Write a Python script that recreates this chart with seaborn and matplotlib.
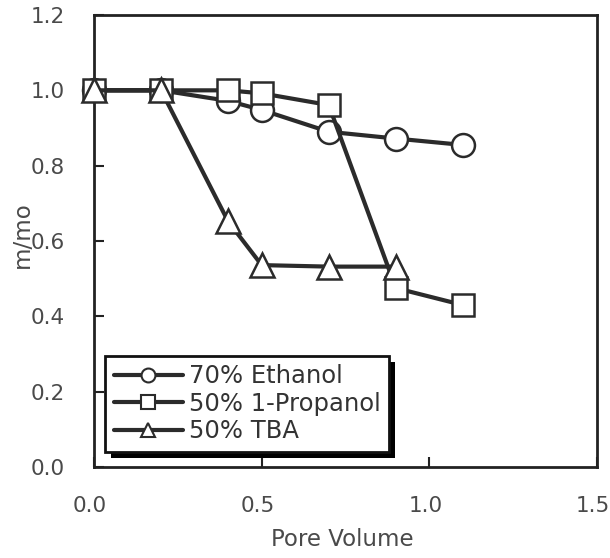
import matplotlib
matplotlib.use("Agg")
import matplotlib.pyplot as plt
import matplotlib.transforms as mtransforms
from matplotlib.patches import Rectangle
from matplotlib.lines import Line2D
import seaborn as sns
import pandas as pd

# Measured sorption ratio versus pore volume for three solvent mixtures
pore_volume = [0.0, 0.2, 0.4, 0.5, 0.7, 0.9, 1.1]
ethanol_70 = [1.0, 1.0, 0.972, 0.948, 0.890, 0.872, 0.855]
propanol_50 = [1.0, 1.0, 1.0, 0.992, 0.961, 0.475, 0.430]
tba_pv = [0.0, 0.2, 0.4, 0.5, 0.7, 0.9]
tba_50 = [1.0, 1.0, 0.652, 0.536, 0.532, 0.532]

series_names = ["70% Ethanol", "50% 1-Propanol", "50% TBA"]
x_ticks = [0.0, 0.5, 1.0, 1.5]
y_ticks = [0.0, 0.2, 0.4, 0.6, 0.8, 1.0, 1.2]

frames = [
    pd.DataFrame({"pv": pore_volume, "m": ethanol_70, "series": series_names[0]}),
    pd.DataFrame({"pv": pore_volume, "m": propanol_50, "series": series_names[1]}),
    pd.DataFrame({"pv": tba_pv, "m": tba_50, "series": series_names[2]}),
]
df = pd.concat(frames, ignore_index=True)

sns.set_style("white")
plt.rcParams["font.family"] = ["DejaVu Sans"]

line_col = "#2b2b2b"
text_col = "#4a4a4a"
markers = {series_names[0]: "o", series_names[1]: "s", series_names[2]: "^"}
sizes = {"o": 16.5, "s": 16, "^": 17}

fig = plt.figure(figsize=(6.10, 5.58), dpi=100)
ax = fig.add_axes([94 / 610, 1 - 467 / 558, (597 - 94) / 610, (467 - 15) / 558])

# later series are drawn on top of earlier ones
for i, name in enumerate(series_names):
    sub = df[df["series"] == name]
    sns.lineplot(data=sub, x="pv", y="m", ax=ax, color=line_col, lw=3.0,
                 marker=markers[name], markersize=sizes[markers[name]],
                 markerfacecolor="white", markeredgecolor=line_col,
                 markeredgewidth=1.8, legend=False, sort=False, zorder=3 + i * 0.1,
                 clip_on=False)

ax.set_xlim(0, 1.5)
ax.set_ylim(0, 1.2)
ax.set_xticks(x_ticks)
ax.set_yticks(y_ticks)
ax.set_xticklabels([f"{v:.1f}" for v in x_ticks])
ax.set_yticklabels([f"{v:.1f}" for v in y_ticks])
ax.tick_params(axis="both", direction="in", length=7, width=1.5, colors="#222222",
               labelcolor=text_col, labelsize=15.5, pad=21,
               bottom=True, left=True, top=False, right=False)
# nudge the x tick labels slightly left
shift = mtransforms.ScaledTranslation(-4 / 100, 0, fig.dpi_scale_trans)
for lab in ax.get_xticklabels():
    lab.set_transform(lab.get_transform() + shift)

for s in ax.spines.values():
    s.set_color("#222222")
    s.set_linewidth(2.0)
    s.set_visible(True)

ax.set_xlabel("Pore Volume", fontsize=16.5, color=text_col)
ax.set_ylabel("m/mo", fontsize=16.5, color=text_col)
ax.xaxis.set_label_coords((342 - 94) / 503, (467 - 540) / 452)
ax.yaxis.set_label_coords((22 - 94) / 503, (467 - 235) / 452)
ax.xaxis.label.set_va("center")
ax.yaxis.label.set_va("center")

handles = [Line2D([], [], color=line_col, lw=3.0, marker=markers[n], markersize=10,
                  markerfacecolor="white", markeredgecolor=line_col, markeredgewidth=1.5)
           for n in series_names]
leg = ax.legend(handles, series_names, loc="lower left",
                bbox_to_anchor=(11 / 503, 15 / 452), frameon=True, fancybox=False,
                framealpha=1.0, fontsize=17.5, handlelength=2.85, handletextpad=0.25,
                labelspacing=0.15, borderpad=0.35, borderaxespad=0)
leg.get_frame().set_edgecolor("#111111")
leg.get_frame().set_linewidth(2.0)
leg.get_frame().set_facecolor("white")
leg.set_zorder(6)
for t in leg.get_texts():
    t.set_color("#333333")

# solid drop shadow behind the legend box
fig.canvas.draw()
bb = leg.get_window_extent().transformed(ax.transAxes.inverted())
dx, dy = 6 / 503, 6 / 452
shadow = Rectangle((bb.x0 + dx, bb.y0 - dy), bb.width, bb.height,
                   transform=ax.transAxes, facecolor="black", edgecolor="none",
                   zorder=5.5)
ax.add_patch(shadow)

fig.savefig("out.png", dpi=100)
